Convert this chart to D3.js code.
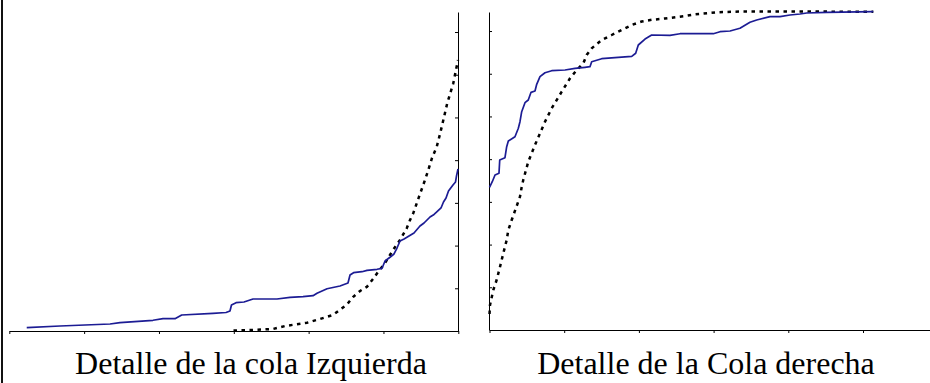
<!DOCTYPE html>
<html>
<head>
<meta charset="utf-8">
<script src="https://cdn.jsdelivr.net/npm/d3@7"></script>
<style>
  html, body { margin: 0; padding: 0; background: #fff; }
  svg { display: block; }
  .title { font-family: "Liberation Serif", "Times New Roman", serif; font-size: 32px; fill: #000; }
  .axis path, .axis line { stroke: #000; stroke-width: 1; }
</style>
</head>
<body>
<svg id="chart" width="930" height="383"></svg>
<script>
// Left tail: empirical (solid) and fitted (dotted) cumulative curves
const leftEmpX = [0.233,0.678,1.346,1.479,1.920,2.054,2.214,2.304,2.722,2.896,2.949,2.969,3.030,3.136,3.257,3.577,3.751,3.925,4.059,4.112,4.246,4.419,4.526,4.553,4.600,4.713,4.780,4.914,4.981,5.021,5.087,5.141,5.181,5.221,5.275,5.341,5.408,5.488,5.542,5.622,5.676,5.716,5.769,5.802,5.836,5.869,5.929,5.963,5.976,5.996];
const leftEmpY = [0.077,0.117,0.164,0.194,0.251,0.288,0.288,0.375,0.414,0.433,0.468,0.609,0.663,0.679,0.749,0.749,0.789,0.803,0.827,0.883,0.990,1.054,1.124,1.311,1.365,1.388,1.421,1.445,1.468,1.639,1.726,1.803,1.943,2.107,2.154,2.224,2.295,2.458,2.529,2.669,2.728,2.793,2.880,3.020,3.114,3.278,3.418,3.489,3.629,3.793];
const leftFitX = [2.996,3.217,3.524,3.684,3.978,4.152,4.326,4.513,4.593,4.687,4.780,4.861,4.927,5.021,5.087,5.128,5.221,5.311,5.355,5.399,5.488,5.555,5.599,5.649,5.712,5.756,5.800,5.853,5.933,5.987,5.996];
const leftFitY = [0.012,0.023,0.047,0.117,0.194,0.281,0.375,0.620,0.796,0.937,1.037,1.218,1.381,1.592,1.779,1.897,2.131,2.405,2.599,2.763,3.208,3.535,3.770,4.051,4.315,4.613,4.940,5.338,5.800,6.268,6.345];

// Right tail
const rightEmpX = [0,0.037,0.074,0.127,0.137,0.207,0.230,0.252,0.341,0.386,0.408,0.431,0.475,0.519,0.556,0.609,0.632,0.676,0.743,0.833,1.011,1.145,1.278,1.345,1.368,1.502,1.724,1.904,1.957,1.992,2.082,2.171,2.416,2.550,2.996,3.086,3.220,3.353,3.487,3.577,3.755,3.889,4.023,4.157,4.246,4.514,5.138];
const rightEmpY = [3.340,3.472,3.629,3.669,3.980,4.034,4.292,4.425,4.526,4.723,4.877,5.111,5.322,5.385,5.565,5.596,5.753,5.931,6.024,6.071,6.088,6.127,6.151,6.165,6.282,6.352,6.385,6.408,6.479,6.673,6.813,6.907,6.900,6.937,6.937,6.984,7.001,7.064,7.204,7.258,7.336,7.336,7.375,7.399,7.422,7.438,7.453];
const rightFitX = [0,0.007,0.051,0.096,0.141,0.185,0.230,0.252,0.297,0.364,0.408,0.431,0.452,0.519,0.609,0.743,0.833,0.967,1.078,1.167,1.256,1.301,1.368,1.502,1.636,1.770,1.904,2.037,2.171,2.349,2.617,2.751,3.042,3.353,5.138];
const rightFitY = [0.375,0.585,0.937,1.171,1.482,1.796,2.107,2.341,2.575,2.903,3.121,3.348,3.512,3.941,4.332,4.877,5.191,5.580,5.893,6.088,6.244,6.439,6.596,6.790,6.907,7.024,7.141,7.223,7.263,7.293,7.352,7.392,7.438,7.457,7.453];

const xTicksLeft = [0,1,2,3,4,5,6];
const xTicksRight = [0,1,2,3,4,5];
const yTicks = [1,2,3,4,5,6,7];
const titles = ["Detalle de la cola Izquierda", "Detalle de la Cola derecha"];

const svg = d3.select("#chart");
const empColor = "#1c1c94";

// frame line on the far left
svg.append("rect").attr("x", 1).attr("y", 0).attr("width", 2).attr("height", 383).attr("fill", "#111");

function zip(xs, ys) { return xs.map((x, i) => [x, ys[i]]); }

function panel(opts) {
  const x = d3.scaleLinear().domain(opts.xDomain).range(opts.xRange);
  const y = d3.scaleLinear().domain([0, opts.yTop]).range([opts.bottom, 12]);
  const g = svg.append("g");

  g.append("g").attr("class", "axis")
    .attr("transform", `translate(0,${opts.bottom})`)
    .call(d3.axisBottom(x).tickValues(opts.xTicks).tickSize(3).tickSizeOuter(0).tickFormat(""));

  const yAxis = (opts.yAxisSide === "left" ? d3.axisLeft(y) : d3.axisRight(y))
    .tickValues(yTicks).tickSize(3).tickSizeOuter(0).tickFormat("");
  g.append("g").attr("class", "axis")
    .attr("transform", `translate(${opts.yAxisX},0)`)
    .call(yAxis);

  const line = d3.line().x(d => x(d[0])).y(d => y(d[1]));

  g.append("path").datum(zip(opts.fitX, opts.fitY))
    .attr("d", line).attr("fill", "none")
    .attr("stroke", "#000").attr("stroke-width", 2.5)
    .attr("stroke-dasharray", "3.5,4.5");

  g.append("path").datum(zip(opts.empX, opts.empY))
    .attr("d", line).attr("fill", "none")
    .attr("stroke", empColor).attr("stroke-width", 1.7)
    .attr("stroke-linejoin", "round");

  g.append("text").attr("class", "title")
    .attr("x", opts.titleX).attr("y", 374)
    .attr("text-anchor", "middle")
    .text(opts.title);
}

panel({
  xDomain: [0, 6], xRange: [9.3, 458.3], xTicks: xTicksLeft,
  bottom: 331, yTop: (331 - 12) / 42.71,
  yAxisSide: "left", yAxisX: 458,
  empX: leftEmpX, empY: leftEmpY, fitX: leftFitX, fitY: leftFitY,
  title: titles[0], titleX: 251
});

panel({
  xDomain: [0, (930 - 489.5) / 74.7], xRange: [489.5, 930], xTicks: xTicksRight,
  bottom: 330, yTop: (330 - 12) / 42.71,
  yAxisSide: "right", yAxisX: 489,
  empX: rightEmpX, empY: rightEmpY, fitX: rightFitX, fitY: rightFitY,
  title: titles[1], titleX: 706
});
</script>
</body>
</html>
